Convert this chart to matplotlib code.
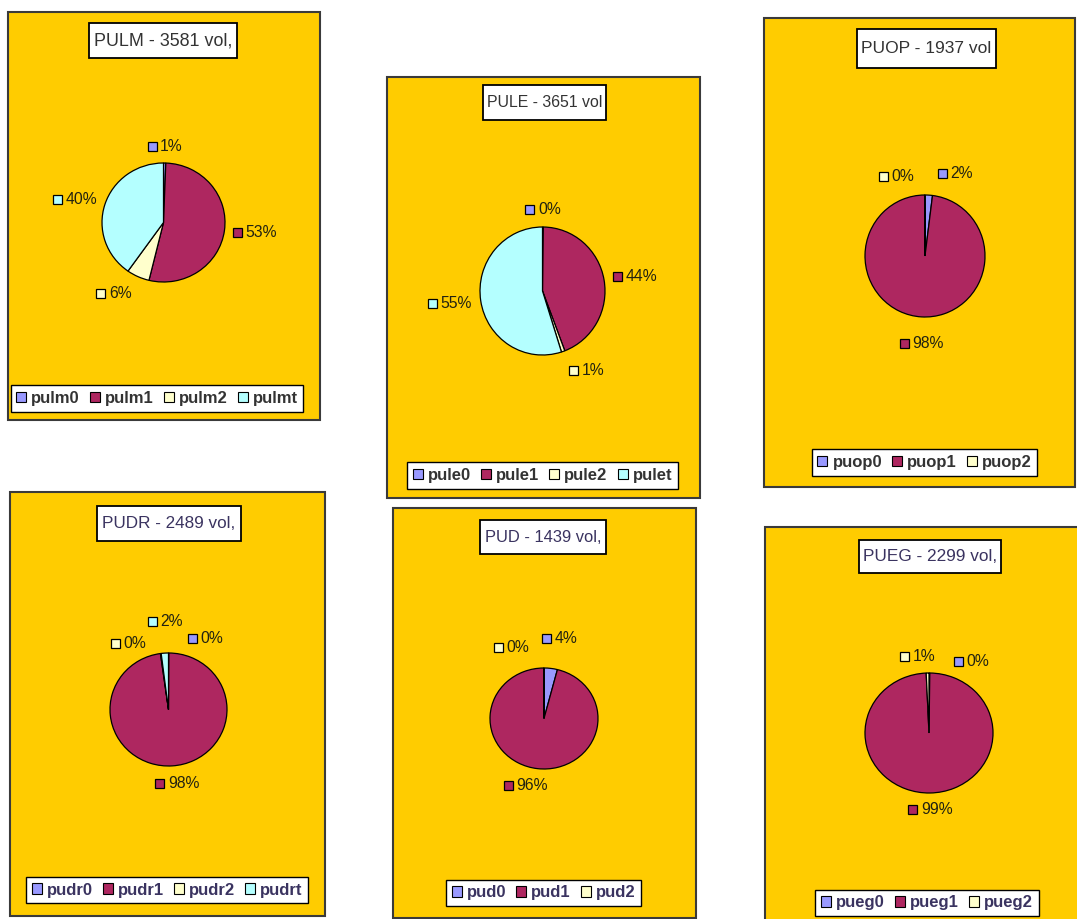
import numpy as np
import matplotlib.pyplot as plt
from matplotlib.patches import Rectangle, Patch
from matplotlib.offsetbox import AnnotationBbox, DrawingArea, HPacker, TextArea

W, H, DPI = 1077, 919, 100
plt.rcParams['font.family'] = ['Liberation Sans', 'DejaVu Sans']

GOLD = '#FFCC00'
SLICE_COLORS = ['#9999FF', '#AE2760', '#FFFFCC', '#B4FFFF']

# shares in percent, drawn clockwise from 12 o'clock
pulm_names = ['pulm0', 'pulm1', 'pulm2', 'pulmt']
pulm_share = [0.6, 53.2, 6.0, 40.2]
pule_names = ['pule0', 'pule1', 'pule2', 'pulet']
pule_share = [0.2, 44.0, 0.9, 54.9]
puop_names = ['puop0', 'puop1', 'puop2']
puop_share = [2.0, 97.9, 0.1]
pudr_names = ['pudr0', 'pudr1', 'pudr2', 'pudrt']
pudr_share = [0.1, 97.7, 0.2, 2.0]
pud_names = ['pud0', 'pud1', 'pud2']
pud_share = [4.0, 95.9, 0.1]
pueg_names = ['pueg0', 'pueg1', 'pueg2']
pueg_share = [0.2, 99.1, 0.7]

titles = ['PULM - 3581 vol,', 'PULE - 3651 vol', 'PUOP - 1937 vol',
          'PUDR - 2489 vol,', 'PUD - 1439 vol,', 'PUEG - 2299 vol,']

# layout in image pixels (y down)
PANELS = [
    dict(names=pulm_names, share=pulm_share, title=titles[0], box=(8, 12, 320, 420),
         tbox=(89, 23, 237, 58), tsize=12.9, pie=(163.5, 222.5, 61.5, 59.5), leg=(157, 398.5),
         nudge=[(0, 0), (0, 0), (-13, 2), (0, 0)], ink='#333333'),
    dict(names=pule_names, share=pule_share, title=titles[1], box=(387, 77, 700, 498),
         tbox=(483, 85, 606, 120), tsize=11.4, pie=(542.5, 291, 62.5, 64), leg=(542.5, 475.5),
         nudge=[(0, 0), (0, 0), (15, 3), (0, 0)], ink='#333333'),
    dict(names=puop_names, share=puop_share, title=titles[2], box=(764, 18, 1075, 487),
         tbox=(857, 29, 996, 68), tsize=12.5, pie=(925, 256, 60, 61), leg=(924.5, 462.5),
         nudge=[(25, -5), (2, 10), (-28, -2)], ink='#333333'),
    dict(names=pudr_names, share=pudr_share, title=titles[3], box=(10, 492, 325, 916),
         tbox=(97, 506, 241, 541), tsize=12.3, pie=(168.5, 709.5, 58.5, 56.5), leg=(167, 890),
         nudge=[(37, 1), (3, 2), (-29, 6), (2, -16)], ink='#3a3360'),
    dict(names=pud_names, share=pud_share, title=titles[4], box=(393, 508, 696, 918),
         tbox=(480, 520, 606, 554), tsize=11.9, pie=(544, 718.5, 54, 50.5), leg=(543.5, 893),
         nudge=[(6, -15), (-8, 2), (-32, -5)], ink='#3a3360'),
    dict(names=pueg_names, share=pueg_share, title=titles[5], box=(765, 527, 1082, 925),
         tbox=(859, 540, 1001, 573), tsize=12.4, pie=(929, 733, 64, 60), leg=(927, 903),
         nudge=[(42, 5), (0, 0), (-9, 0)], ink='#3a3360'),
]


def fx(x):
    return x / W


def fy(y):
    return 1 - y / H


def px_rect(x0, y0, x1, y1, **kw):
    return Rectangle((fx(x0), fy(y1)), (x1 - x0) / W, (y1 - y0) / H,
                     transform=fig.transFigure, **kw)


def label_box(color, text):
    key = DrawingArea(6.5, 6.5)
    key.add_artist(Rectangle((0, 0), 6.5, 6.5, fc=color, ec='black', lw=0.9))
    txt = TextArea(text, textprops=dict(size=11.3, color='#222211'))
    return HPacker(children=[key, txt], align='center', pad=0, sep=2.5)


def draw_panel(p):
    fig.add_artist(px_rect(*p['box'], fc=GOLD, ec='#3a3a3a', lw=1.5, zorder=-1))

    # title
    x0, y0, x1, y1 = p['tbox']
    fig.add_artist(px_rect(x0, y0, x1, y1, fc='white', ec='black', lw=1.3, zorder=3))
    fig.text(fx((x0 + x1) / 2), fy((y0 + y1) / 2), p['title'], ha='center', va='center',
             size=p['tsize'], color=p['ink'], zorder=4)

    # pie
    cx, cy, rx, ry = p['pie']
    ax = fig.add_axes([fx(cx - rx), fy(cy + ry), 2 * rx / W, 2 * ry / H], zorder=2)
    colors = SLICE_COLORS[:len(p['share'])]
    ax.pie(p['share'], colors=colors, startangle=90, counterclock=False, radius=1,
           wedgeprops=dict(edgecolor='black', linewidth=0.9))
    ax.set_aspect('auto')
    ax.set_xlim(-1, 1)
    ax.set_ylim(-1, 1)
    ax.axis('off')

    share = np.array(p['share'], dtype=float)
    mids = (np.cumsum(share) - share / 2) / share.sum() * 2 * np.pi
    for v, c, th, (dx, dy) in zip(share, colors, mids, p['nudge']):
        sx, sy = np.sin(th), np.cos(th)
        ab = AnnotationBbox(label_box(c, f'{round(v)}%'), (1.15 * sx, 1.15 * sy),
                            xybox=(dx * 72 / DPI, -dy * 72 / DPI), xycoords='data',
                            boxcoords='offset points',
                            box_alignment=((1 - sx) / 2, (1 - sy) / 2),
                            frameon=False, pad=0, annotation_clip=False)
        ab.set_clip_on(False)
        ax.add_artist(ab)

    # legend
    handles = [Patch(fc=c, ec='black', lw=0.8) for c in colors]
    lx, ly = p['leg']
    leg = fig.legend(handles, p['names'], loc='center', bbox_to_anchor=(fx(lx), fy(ly)),
                     ncol=len(handles), frameon=True, fancybox=False, edgecolor='black',
                     facecolor='white', framealpha=1, labelcolor=p['ink'],
                     prop=dict(weight='bold', size=12), handlelength=0.6,
                     handleheight=0.6, handletextpad=0.3, columnspacing=0.6,
                     borderpad=0.35, borderaxespad=0)
    leg.get_frame().set_linewidth(1.0)
    leg.set_zorder(5)


fig = plt.figure(figsize=(W / DPI, H / DPI), dpi=DPI)
fig.patch.set_facecolor('white')
for panel in PANELS:
    draw_panel(panel)

fig.savefig('out.png', dpi=DPI)
